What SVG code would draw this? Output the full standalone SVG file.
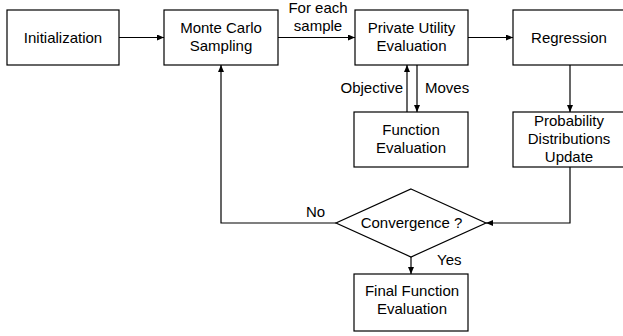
<svg xmlns="http://www.w3.org/2000/svg" width="623" height="336" viewBox="0 0 623 336">
<defs>
<marker id="ah" markerWidth="7" markerHeight="6" refX="7" refY="3" orient="auto" markerUnits="userSpaceOnUse">
<path d="M0,0 L7,3 L0,6 Z" fill="#000"/>
</marker>
<style>
.box{fill:#fff;stroke:#000;stroke-width:1.2}
.t{font-family:"Liberation Sans",Arial,sans-serif;font-size:15px;fill:#000;text-anchor:middle}
.l{font-family:"Liberation Sans",Arial,sans-serif;font-size:15px;fill:#000}
.c{fill:none;stroke:#000;stroke-width:1.2;marker-end:url(#ah)}
</style>
</defs>
<rect width="623" height="336" fill="#fff"/>
<g id="connectors">
<path class="c" d="M119,37.5 L164,37.5"/>
<path class="c" d="M278,37.5 L355,37.5"/>
<path class="c" d="M468,37.5 L513,37.5"/>
<path class="c" d="M417,65 L417,112"/>
<path class="c" d="M407,112 L407,65"/>
<path class="c" d="M570,65 L570,112"/>
<path class="c" d="M570,167 L570,223 L486,223"/>
<path class="c" d="M336,223 L221,223 L221,65"/>
<path class="c" d="M411,257 L411,274"/>
<text class="t" x="318" y="13">For each</text>
<text class="t" x="318" y="31">sample</text>
<text class="l" x="403" y="93" text-anchor="end">Objective</text>
<text class="l" x="425" y="93">Moves</text>
<text class="l" x="306" y="217">No</text>
<text class="l" x="437" y="265">Yes</text>
</g>
<g id="init"><rect class="box" x="7" y="10" width="112" height="55"/><text class="t" x="63" y="43">Initialization</text></g>
<g id="mc"><rect class="box" x="164" y="10" width="114" height="55"/><text class="t" x="221" y="33">Monte Carlo</text><text class="t" x="221" y="51">Sampling</text></g>
<g id="pue"><rect class="box" x="355" y="10" width="113" height="55"/><text class="t" x="411.5" y="33">Private Utility</text><text class="t" x="411.5" y="51">Evaluation</text></g>
<g id="reg"><rect class="box" x="513" y="10" width="114" height="55"/><text class="t" x="569" y="43">Regression</text></g>
<g id="fe"><rect class="box" x="354" y="112" width="114" height="55"/><text class="t" x="411" y="135">Function</text><text class="t" x="411" y="153">Evaluation</text></g>
<g id="pdu"><rect class="box" x="513" y="112" width="114" height="55"/><text class="t" x="569" y="126">Probability</text><text class="t" x="569" y="144">Distributions</text><text class="t" x="569" y="162">Update</text></g>
<g id="conv"><polygon class="box" points="411,189 486,223 411,257 336,223"/><text class="t" x="411.5" y="228">Convergence ?</text></g>
<g id="ffe"><rect class="box" x="354" y="274" width="114" height="57"/><text class="t" x="412" y="296">Final Function</text><text class="t" x="412" y="314">Evaluation</text></g>
</svg>
